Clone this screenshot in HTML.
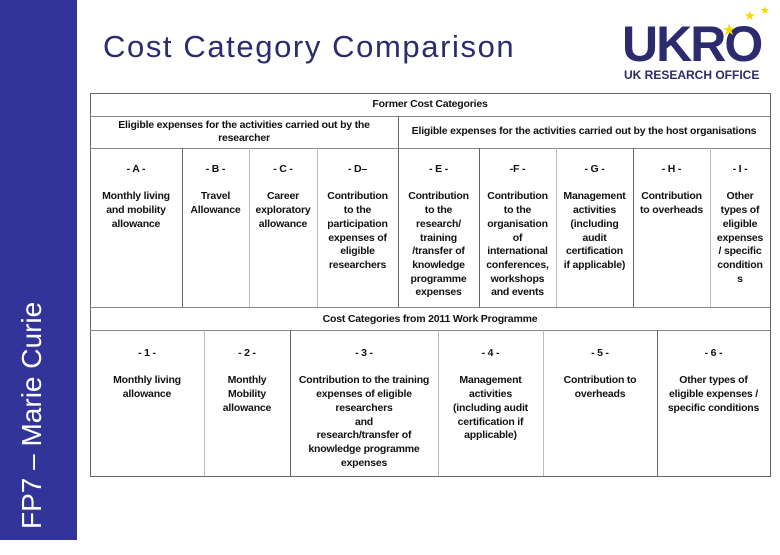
<!DOCTYPE html>
<html><head><meta charset="utf-8"><style>
body{margin:0;width:780px;height:540px;background:#fff;position:relative;overflow:hidden;font-family:"Liberation Sans",Arial,sans-serif}
.c{position:absolute;text-align:center;font-weight:bold;font-size:10.5px;line-height:13.7px;color:#111;letter-spacing:-0.2px;white-space:nowrap}
.l{position:absolute;text-align:center;font-weight:bold;font-size:10.5px;color:#111;white-space:nowrap;letter-spacing:-0.2px}
</style></head><body>
<div style="position:absolute;left:0;top:0;width:77px;height:540px;background:#33349a"></div>
<div style="position:absolute;left:-118px;top:388px;width:300px;height:34px;transform:rotate(-90deg);color:#fff;font-size:28px;line-height:34px;white-space:nowrap;text-align:left;padding-left:26px;box-sizing:border-box">FP7 – Marie Curie</div>
<div style="position:absolute;left:103px;top:29px;font-size:31px;color:#2b2b6e;letter-spacing:1.6px;white-space:nowrap">Cost Category Comparison</div>
<div style="position:absolute;left:622px;top:18px;width:150px;height:66px">
<div style="position:absolute;left:0;top:2px;font-size:50px;font-weight:900;color:#2b2b6e;letter-spacing:-2px;line-height:48px">UKRO</div>
<div style="position:absolute;left:100px;top:2px;color:#f5d800;font-size:16px">★</div>
<div style="position:absolute;left:122px;top:-10px;color:#f5d800;font-size:13px">★</div>
<div style="position:absolute;left:138px;top:-14px;color:#f5d800;font-size:11px">★</div>
<div style="position:absolute;left:2px;top:50px;font-size:12px;font-weight:bold;color:#2b2b6e;white-space:nowrap">UK RESEARCH OFFICE</div>
</div>
<svg width="780" height="540" style="position:absolute;left:0;top:0" stroke="#888" stroke-width="1" fill="none">
<rect x="90.5" y="93.5" width="680" height="383" stroke="#666"/>
<line x1="90" y1="116.5" x2="770" y2="116.5"/>
<line x1="90" y1="148.5" x2="770" y2="148.5"/>
<line x1="90" y1="307.5" x2="770" y2="307.5"/>
<line x1="90" y1="330.5" x2="770" y2="330.5"/>
<line x1="398.5" y1="116" x2="398.5" y2="307" stroke="#666"/>
<line x1="182.5" y1="148" x2="182.5" y2="307" stroke="#666"/>
<line x1="249.5" y1="148" x2="249.5" y2="307" stroke="#bbb"/>
<line x1="317.5" y1="148" x2="317.5" y2="307" stroke="#bbb"/>
<line x1="479.5" y1="148" x2="479.5" y2="307" stroke="#666"/>
<line x1="556.5" y1="148" x2="556.5" y2="307" stroke="#bbb"/>
<line x1="633.5" y1="148" x2="633.5" y2="307" stroke="#666"/>
<line x1="710.5" y1="148" x2="710.5" y2="307" stroke="#bbb"/>
<line x1="204.5" y1="330" x2="204.5" y2="476" stroke="#bbb"/>
<line x1="290.5" y1="330" x2="290.5" y2="476" stroke="#666"/>
<line x1="438.5" y1="330" x2="438.5" y2="476" stroke="#bbb"/>
<line x1="543.5" y1="330" x2="543.5" y2="476" stroke="#bbb"/>
<line x1="657.5" y1="330" x2="657.5" y2="476" stroke="#666"/>
</svg>
<div class="l" style="left:90px;top:98px;width:680px">Former Cost Categories</div>
<div class="c" style="left:90px;top:119px;width:308px;line-height:13px">Eligible expenses for the activities carried out by the<br>researcher</div>
<div class="l" style="left:398px;top:125px;width:372px">Eligible expenses for the activities carried out by the host organisations</div>

<div class="c" style="left:90px;top:163px;width:92px">- A -<br><br>Monthly living<br>and mobility<br>allowance</div>
<div class="c" style="left:182px;top:163px;width:67px">- B -<br><br>Travel<br>Allowance</div>
<div class="c" style="left:249px;top:163px;width:68px">- C -<br><br>Career<br>exploratory<br>allowance</div>
<div class="c" style="left:317px;top:163px;width:81px">- D–<br><br>Contribution<br>to the<br>participation<br>expenses of<br>eligible<br>researchers</div>
<div class="c" style="left:398px;top:163px;width:81px">- E -<br><br>Contribution<br>to the<br>research/<br>training<br>/transfer of<br>knowledge<br>programme<br>expenses</div>
<div class="c" style="left:479px;top:163px;width:77px">-F -<br><br>Contribution<br>to the<br>organisation<br>of<br>international<br>conferences,<br>workshops<br>and events</div>
<div class="c" style="left:556px;top:163px;width:77px">- G -<br><br>Management<br>activities<br>(including<br>audit<br>certification<br>if applicable)</div>
<div class="c" style="left:633px;top:163px;width:77px">- H -<br><br>Contribution<br>to overheads</div>
<div class="c" style="left:710px;top:163px;width:60px">- I -<br><br>Other<br>types of<br>eligible<br>expenses<br>/ specific<br>condition<br>s</div>

<div class="l" style="left:90px;top:313px;width:680px">Cost Categories from 2011 Work Programme</div>
<div class="c" style="left:90px;top:347px;width:114px">- 1 -<br><br>Monthly living<br>allowance</div>
<div class="c" style="left:204px;top:347px;width:86px">- 2 -<br><br>Monthly<br>Mobility<br>allowance</div>
<div class="c" style="left:290px;top:347px;width:148px">- 3 -<br><br>Contribution to the training<br>expenses of eligible<br>researchers<br>and<br>research/transfer of<br>knowledge programme<br>expenses</div>
<div class="c" style="left:438px;top:347px;width:105px">- 4 -<br><br>Management<br>activities<br>(including audit<br>certification if<br>applicable)</div>
<div class="c" style="left:543px;top:347px;width:114px">- 5 -<br><br>Contribution to<br>overheads</div>
<div class="c" style="left:657px;top:347px;width:113px">- 6 -<br><br>Other types of<br>eligible expenses /<br>specific conditions</div>
</body></html>
